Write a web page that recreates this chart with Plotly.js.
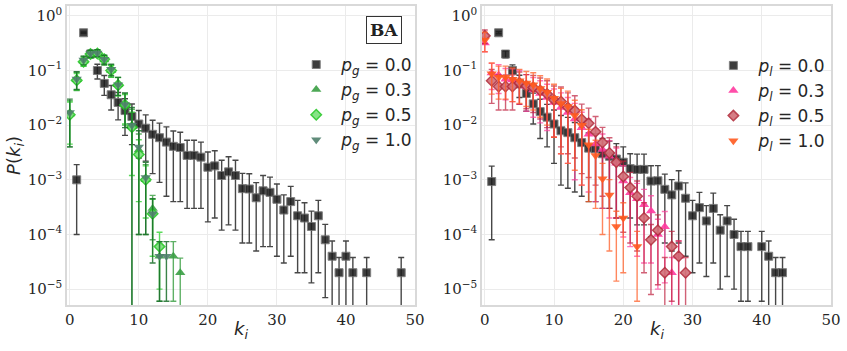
<!DOCTYPE html>
<html>
<head>
<meta charset="utf-8">
<script src="https://cdn.plot.ly/plotly-3.0.1.min.js"></script>
<style>
  html, body { margin: 0; padding: 0; background: #fff; }
  #chart { width: 847px; height: 351px; }
</style>
</head>
<body>
<div id="chart"></div>
<script>
// ---- left panel (BA, p_g) ----
const kBlackL = [1, 2, 3, 4, 5, 6, 7, 8, 9, 10, 11, 12, 13, 14, 15, 16, 17, 18, 19, 20, 21, 22, 23, 24, 25,
  26, 27, 28, 29, 30, 31, 32, 33, 34, 35, 36, 37, 38, 39, 40, 41, 43, 48];
const pBlackL = [0.001, 0.49, 0.2, 0.1, 0.058, 0.036, 0.026, 0.0185, 0.0144, 0.0105, 0.0088, 0.0068, 0.0059,
  0.0049, 0.0041, 0.0039, 0.0028, 0.0028, 0.0026, 0.0017, 0.0018, 0.0012, 0.0014, 0.0012, 0.00069, 0.00068,
  0.00047, 0.00063, 0.00059, 0.00044, 0.00028, 0.0004, 0.00022, 0.0002, 0.00014, 0.00022, 0.00008, 0.00004,
  0.00002, 0.00004, 0.00002, 0.00002, 0.00002];
const eBlackL = [0.0009, 0.015, 0.03, 0.03, 0.023, 0.017, 0.0135, 0.012, 0.01, 0.008, 0.0066, 0.0055, 0.005,
  0.0044, 0.0037, 0.0035, 0.0025, 0.0025, 0.0023, 0.00153, 0.0016, 0.00108, 0.00125, 0.00108, 0.00062, 0.00061,
  0.00042, 0.00057, 0.00053, 0.0004, 0.00025, 0.00036, 0.0002, 0.00018, 0.000127, 0.0002, 0.000073, 0.000036,
  0.000018, 0.000036, 0.000018, 0.000018, 0.000018];

const kG03 = [0, 1, 2, 3, 4, 5, 6, 7, 8, 9, 10, 11, 12, 13, 15, 16];
const pG03 = [0.016, 0.068, 0.15, 0.2, 0.21, 0.155, 0.1, 0.055, 0.024, 0.0095, 0.0035, 0.001, 0.0003, 0.00004, 0.00004, 0.00002];
const eG03 = [0.012, 0.025, 0.03, 0.03, 0.03, 0.03, 0.025, 0.02, 0.014, 0.01, 0.0034, 0.0009, 0.00022, 0.000034, 0.000034, 0.000017];

const kG05 = [0, 1, 2, 3, 4, 5, 6, 7, 8, 9, 10, 11, 12, 13];
const pG05 = [0.0155, 0.066, 0.145, 0.2, 0.205, 0.16, 0.1, 0.054, 0.0235, 0.0092, 0.0029, 0.001, 0.00024, 0.00006];
const eG05 = [0.011, 0.022, 0.025, 0.03, 0.03, 0.028, 0.024, 0.02, 0.013, 0.008, 0.0025, 0.0008, 0.0002, 0.00005];

const kG10 = [0, 1, 2, 3, 4, 5, 6, 7, 8, 9, 10, 11, 12, 13, 14];
const pG10 = [0.017, 0.07, 0.155, 0.205, 0.21, 0.16, 0.105, 0.055, 0.024, 0.01, 0.004, 0.0011, 0.00024, 0.00004, 0.00004];
const eG10 = [0.013, 0.025, 0.028, 0.03, 0.03, 0.03, 0.025, 0.02, 0.015, 0.011, 0.0039, 0.001, 0.00021, 0.000034, 0.000034];

// ---- right panel (p_l) ----
const kBlackR = [1, 2, 3, 4, 5, 6, 7, 8, 9, 10, 11, 12, 13, 14, 15, 16, 17, 18, 19, 20, 21, 22, 23, 24, 25,
  26, 27, 28, 29, 30, 31, 32, 33, 34, 35, 36, 37, 38, 40, 41, 42, 43];
const pBlackR = [0.00093, 0.49, 0.2, 0.1, 0.057, 0.038, 0.0245, 0.0177, 0.014, 0.0105, 0.0079, 0.0073, 0.0059,
  0.0048, 0.0038, 0.0037, 0.003, 0.0027, 0.0024, 0.0021, 0.0016, 0.00155, 0.00155, 0.00095, 0.00096, 0.00067,
  0.00053, 0.00077, 0.00046, 0.00022, 0.00031, 0.000177, 0.0003, 0.00012, 0.000177, 0.0001, 0.00006, 0.00006,
  0.00006, 0.00004, 0.00002, 0.00002];
const eBlackR = [0.00085, 0.02, 0.03, 0.027, 0.025, 0.02, 0.014, 0.012, 0.01, 0.0085, 0.0071, 0.0066, 0.0053,
  0.0043, 0.0034, 0.0033, 0.0027, 0.0024, 0.0022, 0.0019, 0.0014, 0.0014, 0.0014, 0.00086, 0.00086, 0.0006,
  0.00048, 0.0007, 0.00042, 0.0002, 0.00028, 0.00016, 0.00027, 0.00011, 0.00016, 0.00009, 0.000054, 0.000054,
  0.000054, 0.000036, 0.000018, 0.000018];

const kL03 = [0, 1, 2, 3, 4, 5, 6, 7, 8, 9, 10, 11, 12, 13, 14, 15, 16, 17, 18, 19, 20, 21, 22, 23, 24, 25, 26, 27, 28];
const pL03 = [0.32, 0.09, 0.083, 0.069, 0.067, 0.062, 0.051, 0.044, 0.038, 0.032, 0.026, 0.021, 0.017, 0.013,
  0.009, 0.0068, 0.0045, 0.0036, 0.0027, 0.002, 0.00095, 0.00058, 0.00045, 0.00035, 0.00027, 0.0001, 0.000138,
  0.00002, 0.00004];
const eL03 = [0.1, 0.045, 0.045, 0.04, 0.04, 0.038, 0.033, 0.03, 0.027, 0.024, 0.02, 0.018, 0.015, 0.012,
  0.0082, 0.0062, 0.0041, 0.0033, 0.0025, 0.0018, 0.00086, 0.00052, 0.00041, 0.00032, 0.00024, 0.00009,
  0.000125, 0.000018, 0.000036];

const kL05 = [0, 1, 2, 3, 4, 5, 6, 7, 8, 9, 10, 11, 12, 13, 14, 15, 16, 17, 18, 19, 20, 21, 22, 23, 24, 25, 26, 27, 28, 29];
const pL05 = [0.43, 0.065, 0.051, 0.051, 0.051, 0.059, 0.052, 0.049, 0.043, 0.037, 0.029, 0.027, 0.021, 0.0185,
  0.0128, 0.0108, 0.0076, 0.0048, 0.0031, 0.0021, 0.00115, 0.00072, 0.0005, 0.0002, 0.00008, 0.00012, 0.00002,
  0.00006, 0.00004, 0.00002];
const eL05 = [0.12, 0.04, 0.032, 0.032, 0.032, 0.035, 0.032, 0.032, 0.03, 0.028, 0.023, 0.023, 0.018, 0.016,
  0.0115, 0.0097, 0.0068, 0.0043, 0.0028, 0.0019, 0.00104, 0.00065, 0.00045, 0.00018, 0.000072, 0.000108,
  0.000018, 0.000054, 0.000036, 0.000018];

const kL10 = [0, 1, 2, 3, 4, 5, 6, 7, 8, 9, 10, 11, 12, 13, 14, 15, 16, 17, 18, 19, 20, 22];
const pL10 = [0.36, 0.087, 0.075, 0.075, 0.069, 0.065, 0.059, 0.055, 0.047, 0.04, 0.031, 0.025, 0.022, 0.015,
  0.01, 0.0044, 0.0028, 0.00105, 0.00053, 0.00014, 0.0002, 0.00006];
const eL10 = [0.14, 0.05, 0.045, 0.045, 0.042, 0.04, 0.037, 0.036, 0.033, 0.03, 0.025, 0.022, 0.02, 0.0135,
  0.0092, 0.004, 0.0025, 0.00095, 0.00048, 0.000126, 0.00018, 0.000054];

const xTicks = [0, 10, 20, 30, 40, 50];
const yTicks = [1e-5, 1e-4, 1e-3, 1e-2, 1e-1, 1];
const yTickText = ['10<sup>\u22125</sup>', '10<sup>\u22124</sup>', '10<sup>\u22123</sup>',
  '10<sup>\u22122</sup>', '10<sup>\u22121</sup>', '10<sup>0</sup>'];

function series(k, p, e, name, opts) {
    return {
        x: k, y: p, type: 'scatter', mode: 'markers', name: name,
        xaxis: opts.xaxis, yaxis: opts.yaxis, legend: opts.legend,
        error_y: { type: 'data', array: e, visible: true, color: opts.ecolor, thickness: 1.4, width: 3 },
        marker: {
            symbol: opts.symbol, size: opts.size, color: opts.color, opacity: opts.opacity,
            line: { color: opts.lcolor, width: opts.lwidth }
        }
    };
}

const blackStyle = { symbol: 'square', size: 8, color: '#1c1c1c', opacity: 0.85, lcolor: '#6a6a6a', lwidth: 1, ecolor: 'rgba(25,25,25,0.8)' };

const data = [
    series(kBlackL, pBlackL, eBlackL, '<i>p<sub>g</sub></i> = 0.0', Object.assign({ xaxis: 'x', yaxis: 'y', legend: 'legend' }, blackStyle)),
    series(kG03, pG03, eG03, '<i>p<sub>g</sub></i> = 0.3', { xaxis: 'x', yaxis: 'y', legend: 'legend',
        symbol: 'triangle-up', size: 9, color: '#3a9e44', opacity: 0.9, lcolor: '#3a9e44', lwidth: 0, ecolor: 'rgba(40,150,50,0.75)' }),
    series(kG05, pG05, eG05, '<i>p<sub>g</sub></i> = 0.5', { xaxis: 'x', yaxis: 'y', legend: 'legend',
        symbol: 'diamond', size: 8, color: '#7be07b', opacity: 0.9, lcolor: '#28c828', lwidth: 1.5, ecolor: 'rgba(50,210,50,0.8)' }),
    series(kG10, pG10, eG10, '<i>p<sub>g</sub></i> = 1.0', { xaxis: 'x', yaxis: 'y', legend: 'legend',
        symbol: 'triangle-down', size: 9, color: '#4f7f6c', opacity: 0.9, lcolor: '#4f7f6c', lwidth: 0, ecolor: 'rgba(25,110,40,0.85)' }),

    series(kBlackR, pBlackR, eBlackR, '<i>p<sub>l</sub></i> = 0.0', Object.assign({ xaxis: 'x2', yaxis: 'y2', legend: 'legend2' }, blackStyle)),
    series(kL03, pL03, eL03, '<i>p<sub>l</sub></i> = 0.3', { xaxis: 'x2', yaxis: 'y2', legend: 'legend2',
        symbol: 'triangle-up', size: 9, color: '#ff3ba0', opacity: 0.9, lcolor: '#ff3ba0', lwidth: 0, ecolor: 'rgba(255,70,160,0.75)' }),
    series(kL05, pL05, eL05, '<i>p<sub>l</sub></i> = 0.5', { xaxis: 'x2', yaxis: 'y2', legend: 'legend2',
        symbol: 'diamond', size: 8, color: '#d27078', opacity: 0.9, lcolor: '#b3303f', lwidth: 1.5, ecolor: 'rgba(190,30,60,0.7)' }),
    series(kL10, pL10, eL10, '<i>p<sub>l</sub></i> = 1.0', { xaxis: 'x2', yaxis: 'y2', legend: 'legend2',
        symbol: 'triangle-down', size: 9, color: '#ff5a1f', opacity: 0.9, lcolor: '#ff5a1f', lwidth: 0, ecolor: 'rgba(255,95,40,0.75)' })
];

const tickFont = { family: 'DejaVu Serif', size: 15, color: '#262626' };
const titleFont = { family: 'DejaVu Sans', size: 18, color: '#262626' };

function xAxis(domain) {
    return {
        domain: domain, range: [-0.4, 50], tickvals: xTicks, ticks: '', tickfont: tickFont,
        showgrid: true, gridcolor: '#ebebeb', gridwidth: 1, zeroline: false,
        showline: true, mirror: true, linecolor: '#d9d9d9', linewidth: 1.5
    };
}
function yAxis(anchor, title) {
    return {
        type: 'log', range: [-5.29, 0.18], anchor: anchor, tickvals: yTicks, ticktext: yTickText,
        ticks: '', tickfont: tickFont, showgrid: true, gridcolor: '#ebebeb', gridwidth: 1, zeroline: false,
        showline: true, mirror: true, linecolor: '#d9d9d9', linewidth: 1.5,
        title: { text: title, font: titleFont, standoff: 2 }
    };
}

const legendFont = { family: 'DejaVu Sans', size: 17, color: '#262626' };

const layout = {
    width: 847, height: 351,
    margin: { l: 67, r: 16, t: 6, b: 46 },
    paper_bgcolor: 'white', plot_bgcolor: 'white',
    xaxis: xAxis([0, 0.4555]),
    yaxis: yAxis('x', '<i>P</i>(<i>k<sub>i</sub></i>)'),
    xaxis2: Object.assign(xAxis([0.5432, 1]), { anchor: 'y2' }),
    yaxis2: yAxis('x2', ''),
    legend: { x: 0.2935, y: 0.863, xanchor: 'left', yanchor: 'top', bgcolor: 'rgba(0,0,0,0)', font: legendFont, itemwidth: 40, tracegroupgap: 0 },
    legend2: { x: 0.8395, y: 0.86, xanchor: 'left', yanchor: 'top', bgcolor: 'rgba(0,0,0,0)', font: legendFont, itemwidth: 40, tracegroupgap: 0 },
    annotations: [
        {
            xref: 'paper', yref: 'paper', x: 0.415, y: 0.92, xanchor: 'center', yanchor: 'middle', showarrow: false,
            text: '<b>BA</b>', font: { family: 'DejaVu Serif', size: 17, color: '#222' },
            bordercolor: '#333', borderwidth: 1, borderpad: 3, bgcolor: 'white'
        },
        { xref: 'paper', yref: 'paper', x: 0.2278, y: -0.085, xanchor: 'center', yanchor: 'middle', showarrow: false,
          text: '<i>k<sub>i</sub></i>', font: titleFont },
        { xref: 'paper', yref: 'paper', x: 0.7716, y: -0.085, xanchor: 'center', yanchor: 'middle', showarrow: false,
          text: '<i>k<sub>i</sub></i>', font: titleFont }
    ]
};

Plotly.newPlot('chart', data, layout, { displayModeBar: false });
</script>
</body>
</html>
